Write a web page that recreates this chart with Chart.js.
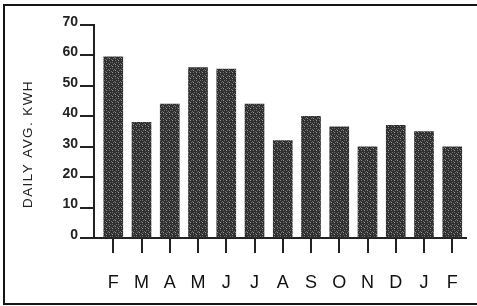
<!DOCTYPE html>
<html>
<head>
<meta charset="utf-8">
<script src="https://cdn.jsdelivr.net/npm/chart.js@4/dist/chart.umd.min.js"></script>
<style>
  html, body { margin: 0; padding: 0; background: #ffffff; }
  #wrap { width: 477px; height: 306px; position: relative; }
</style>
</head>
<body>
<div id="wrap"><canvas id="c" width="477" height="306"></canvas></div>
<script>
// ---- data ----
const months = ["F", "M", "A", "M", "J", "J", "A", "S", "O", "N", "D", "J", "F"];
const dailyAvgKwh = [59.5, 38, 44, 56, 55.5, 44, 32, 40, 36.5, 30, 37, 35, 30];
const yTicks = [0, 10, 20, 30, 40, 50, 60, 70];
const yTitle = "DAILY AVG. KWH";

// stipple pattern for bars
function makePattern() {
  const p = document.createElement('canvas');
  p.width = 6; p.height = 6;
  const g = p.getContext('2d');
  g.fillStyle = '#2f2f2f';
  g.fillRect(0, 0, 6, 6);
  g.fillStyle = '#6e6e6e';
  [[1,0],[4,2],[0,3],[3,5],[5,4],[2,2]].forEach(([x,y]) => g.fillRect(x, y, 1, 1));
  g.fillStyle = '#9a9a9a';
  [[4,0],[1,4]].forEach(([x,y]) => g.fillRect(x, y, 1, 1));
  return g.createPattern(p, 'repeat');
}

const framePlugin = {
  id: 'frame',
  beforeDraw(chart) {
    const ctx = chart.ctx;
    ctx.save();
    ctx.fillStyle = '#ffffff';
    ctx.fillRect(0, 0, chart.width, chart.height);
    ctx.restore();
  },
  afterDraw(chart) {
    const ctx = chart.ctx;
    ctx.save();
    ctx.strokeStyle = '#151515';
    ctx.lineWidth = 2;
    ctx.beginPath();
    ctx.moveTo(480, 5); ctx.lineTo(4, 5); ctx.lineTo(4, 304); ctx.lineTo(480, 304);
    ctx.stroke();
    // y title
    ctx.translate(28, 144);
    ctx.rotate(-Math.PI / 2);
    ctx.fillStyle = '#222';
    ctx.font = '13.5px "Liberation Sans", Arial, sans-serif';
    try { ctx.letterSpacing = '1.4px'; } catch (e) {}
    ctx.textAlign = 'center';
    ctx.textBaseline = 'middle';
    ctx.fillText(yTitle, 0, 0);
    ctx.restore();
  }
};

new Chart(document.getElementById('c'), {
  type: 'bar',
  data: {
    datasets: [{
      data: dailyAvgKwh.map((v, i) => ({ x: i, y: v })),
      backgroundColor: makePattern(),
      borderWidth: 0,
      barThickness: 19
    }]
  },
  options: {
    responsive: false,
    animation: false,
    devicePixelRatio: 1,
    layout: { padding: { left: 0, top: 25, right: 7, bottom: 0 } },
    plugins: { legend: { display: false }, tooltip: { enabled: false } },
    scales: {
      x: {
        type: 'linear',
        offset: false,
        min: -0.682,
        max: 12.47,
        afterBuildTicks: s => { s.ticks = months.map((_, i) => ({ value: i })); },
        afterFit: s => { s.height = 68; },
        grid: { drawOnChartArea: false, tickLength: 15, color: '#222', lineWidth: 2, offset: false },
        border: { display: true, color: '#222', width: 2 },
        ticks: {
          autoSkip: false,
          maxRotation: 0,
          padding: 19,
          color: '#111',
          font: { family: '"Liberation Sans", Arial, sans-serif', size: 18 },
          callback: (v) => months[v]
        }
      },
      y: {
        min: 0,
        max: 70,
        afterBuildTicks: s => { s.ticks = yTicks.map(v => ({ value: v })); },
        afterFit: s => { s.width = 94; },
        grid: { drawOnChartArea: false, tickLength: 14, color: '#222', lineWidth: 2 },
        border: { display: true, color: '#222', width: 2 },
        ticks: {
          padding: 2,
          labelOffset: -3,
          color: '#222',
          font: { family: '"Liberation Sans", Arial, sans-serif', size: 14, weight: 'bold' }
        }
      }
    }
  },
  plugins: [framePlugin]
});
</script>
</body>
</html>
